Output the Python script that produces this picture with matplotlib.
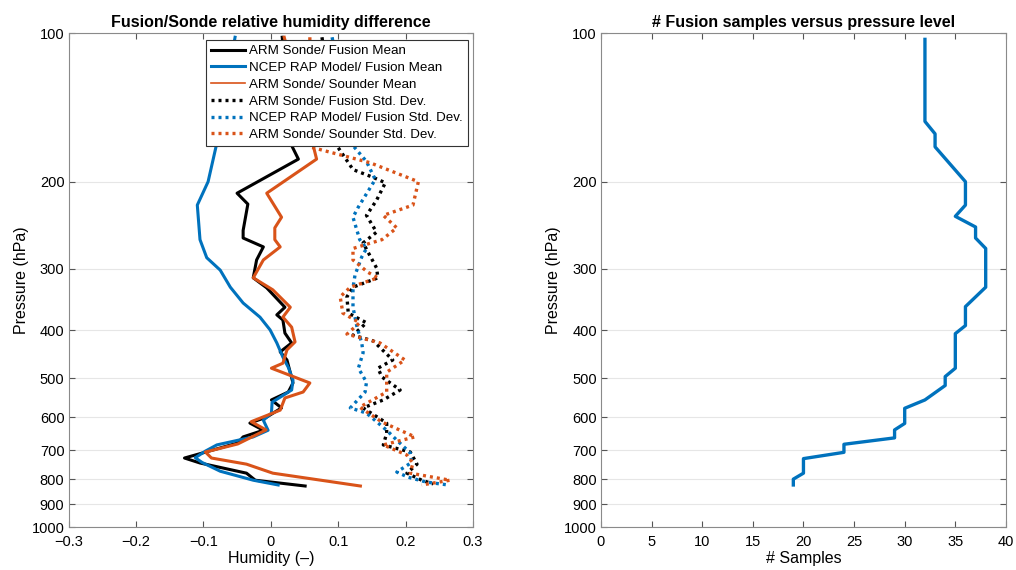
import matplotlib
matplotlib.use("Agg")
import matplotlib.pyplot as plt

plt.rcParams["font.family"] = ["Liberation Sans", "DejaVu Sans"]

blue = "#0072BD"
orange = "#D95319"

# NCEP RAP model / Fusion mean
p_rap_mean = [102, 167, 200, 223, 262, 285, 302, 327, 352, 376, 399, 424, 453, 475, 504, 528,
              559, 588, 608, 637, 657, 682, 702, 724, 740, 771, 804, 822]
rap_mean = [-0.053, -0.080, -0.093, -0.109, -0.105, -0.095, -0.075, -0.060, -0.041, -0.016,
            -0.001, 0.009, 0.018, 0.026, 0.033, 0.031, 0.002, 0.001, -0.011, -0.004, -0.026,
            -0.080, -0.097, -0.112, -0.102, -0.075, -0.026, 0.011]

# ARM sonde / Fusion mean
p_arm_mean = [102, 169, 180, 211, 222, 251, 260, 271, 288, 313, 328, 359, 372, 381, 405, 424,
              442, 459, 511, 533, 553, 574, 599, 616, 637, 657, 676, 725, 742, 778, 804, 826]
arm_mean = [0.017, 0.031, 0.041, -0.050, -0.034, -0.041, -0.041, -0.011, -0.021, -0.026,
            -0.006, 0.021, 0.009, 0.018, 0.021, 0.031, 0.014, 0.024, 0.033, 0.026, 0.001,
            0.016, -0.006, -0.031, -0.011, -0.041, -0.049, -0.128, -0.105, -0.036, -0.023, 0.051]

# ARM sonde / Sounder mean
p_snd_mean = [102, 169, 180, 211, 236, 248, 262, 271, 288, 313, 331, 359, 376, 394, 422, 438,
              466, 477, 511, 533, 548, 580, 612, 636, 679, 705, 725, 746, 778, 826]
snd_mean = [0.020, 0.063, 0.068, -0.006, 0.016, 0.006, 0.006, 0.014, -0.011, -0.026, 0.003,
            0.029, 0.018, 0.031, 0.036, 0.024, 0.018, 0.001, 0.058, 0.048, 0.021, 0.014,
            -0.029, -0.007, -0.049, -0.097, -0.088, -0.036, 0.003, 0.133]

# ARM sonde / Fusion std. dev.
p_arm_std = [102, 169, 189, 196, 201, 218, 234, 253, 266, 299, 313, 327, 342, 369, 386, 409,
             420, 459, 477, 497, 528, 553, 574, 616, 646, 682, 705, 746, 778, 804, 818]
arm_std = [0.076, 0.098, 0.122, 0.152, 0.170, 0.157, 0.142, 0.157, 0.137, 0.157, 0.159, 0.122,
           0.113, 0.115, 0.142, 0.122, 0.152, 0.181, 0.159, 0.165, 0.192, 0.167, 0.137, 0.172,
           0.172, 0.167, 0.207, 0.217, 0.202, 0.224, 0.241]

# NCEP RAP model / Fusion std. dev.
p_rap_std = [102, 169, 182, 198, 225, 236, 262, 273, 284, 309, 328, 359, 394, 424, 444, 477,
             509, 533, 574, 588, 637, 667, 708, 740, 774, 793, 811, 822]
rap_std = [0.091, 0.122, 0.142, 0.155, 0.130, 0.122, 0.132, 0.142, 0.135, 0.125, 0.122, 0.122,
           0.128, 0.135, 0.137, 0.130, 0.142, 0.140, 0.118, 0.142, 0.172, 0.187, 0.207, 0.209,
           0.187, 0.204, 0.231, 0.263]

# ARM sonde / Sounder std. dev.
p_snd_std = [102, 170, 183, 200, 223, 234, 248, 262, 273, 288, 305, 313, 327, 342, 369, 386,
             407, 424, 459, 486, 533, 572, 613, 637, 657, 682, 715, 742, 778, 804, 822]
snd_std = [0.058, 0.058, 0.147, 0.219, 0.211, 0.167, 0.187, 0.165, 0.122, 0.122, 0.144, 0.159,
           0.118, 0.103, 0.107, 0.132, 0.113, 0.162, 0.199, 0.172, 0.172, 0.132, 0.165, 0.192,
           0.214, 0.167, 0.202, 0.211, 0.207, 0.266, 0.224]

# Fusion sample counts
p_samples = [103, 151, 160, 170, 200, 223, 235, 247, 260, 273, 327, 358, 391, 406, 477, 496,
             517, 553, 575, 617, 636, 660, 680, 706, 727, 778, 800, 822]
n_samples = [32, 32, 33, 33, 36, 36, 35, 37, 37, 38, 38, 36, 36, 35, 35, 34, 34, 32, 30, 30,
             29, 29, 24, 24, 20, 20, 19, 19]

p_ticks = [100, 200, 300, 400, 500, 600, 700, 800, 900, 1000]

fig = plt.figure(figsize=(10.16, 5.7), dpi=100)
ax1 = fig.add_axes([0.0675, 0.0754, 0.398, 0.8667])
ax2 = fig.add_axes([0.5915, 0.0754, 0.3986, 0.8667])

dot = (0, (0.9, 1.2))
ax1.plot(arm_mean, p_arm_mean, color="black", lw=2.2, label="ARM Sonde/ Fusion Mean")
ax1.plot(rap_mean, p_rap_mean, color=blue, lw=2.2, label="NCEP RAP Model/ Fusion Mean")
ax1.plot(snd_mean, p_snd_mean, color=orange, lw=2.2, label="ARM Sonde/ Sounder Mean")
ax1.plot(arm_std, p_arm_std, color="black", lw=2.4, ls=dot, label="ARM Sonde/ Fusion Std. Dev.")
ax1.plot(rap_std, p_rap_std, color=blue, lw=2.4, ls=dot, label="NCEP RAP Model/ Fusion Std. Dev.")
ax1.plot(snd_std, p_snd_std, color=orange, lw=2.4, ls=dot, label="ARM Sonde/ Sounder Std. Dev.")

ax2.plot(n_samples, p_samples, color=blue, lw=2.4)

for ax in (ax1, ax2):
    ax.set_yscale("log")
    ax.set_ylim(1000, 100)
    ax.set_yticks(p_ticks)
    ax.set_yticklabels([str(t) for t in p_ticks])
    ax.minorticks_off()
    ax.yaxis.grid(True, color="#e6e6e6", lw=0.8)
    ax.set_axisbelow(True)
    ax.tick_params(direction="in", top=True, right=True, labelsize=10.5,
                   color="#555555", length=4)
    ax.tick_params(axis="y", pad=3)
    ax.tick_params(axis="x", pad=6)
    for s in ax.spines.values():
        s.set_color("#8a8a8a")
        s.set_linewidth(0.8)
    ax.set_ylabel("Pressure (hPa)", fontsize=11.5, labelpad=2)

ax1.set_xlim(-0.3, 0.3)
ax1.set_xticks([-0.3, -0.2, -0.1, 0, 0.1, 0.2, 0.3])
ax1.set_xticklabels(["\u22120.3", "\u22120.2", "\u22120.1", "0", "0.1", "0.2", "0.3"])
ax1.set_xlabel("Humidity (\u2013)", fontsize=11.5, labelpad=1)
ax1.set_title("Fusion/Sonde relative humidity difference", fontsize=11.5,
              fontweight="bold", pad=4)

ax2.set_xlim(0, 40)
ax2.set_xticks(range(0, 41, 5))
ax2.set_xlabel("# Samples", fontsize=11.5, labelpad=1)
ax2.set_title("# Fusion samples versus pressure level", fontsize=11.5,
              fontweight="bold", pad=4)

leg = ax1.legend(loc="upper right", bbox_to_anchor=(0.987, 0.985), borderaxespad=0,
                 fontsize=9.6, fancybox=False, framealpha=1, edgecolor="#333333",
                 handlelength=2.6, handletextpad=0.3, labelspacing=0.33, borderpad=0.35)
leg.get_frame().set_linewidth(0.8)
leg.get_lines()[2].set_linewidth(1.2)

fig.savefig("out.png", dpi=100)
